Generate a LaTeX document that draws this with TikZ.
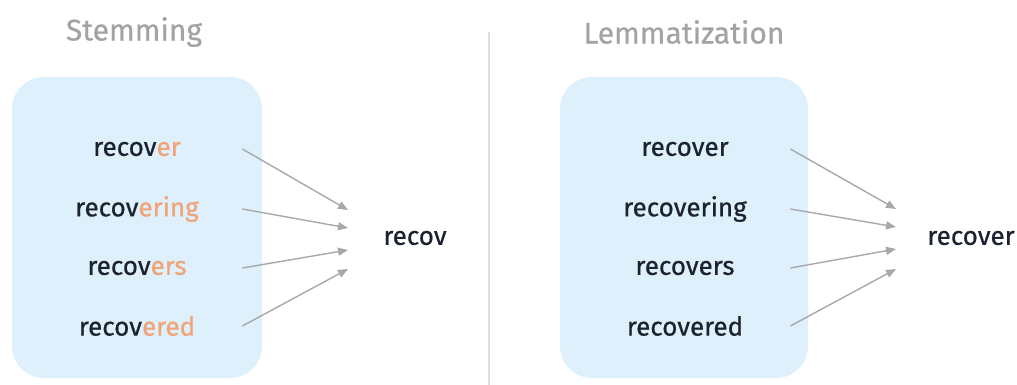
\documentclass[tikz,border=0pt]{standalone}
\usepackage{fontspec}
\setmainfont{Fira Sans}
\newfontfamily\wordfont[FakeBold=0.6]{Fira Sans}
\usetikzlibrary{arrows.meta}
\definecolor{boxblue}{HTML}{DDF0FC}
\definecolor{titlegray}{HTML}{A3A3A3}
\definecolor{wordink}{HTML}{1C2230}
\definecolor{suffix}{HTML}{F2A478}
\definecolor{arrowgray}{HTML}{A8A8A8}
\newcommand{\sfx}[1]{\textcolor{suffix}{#1}}
\begin{document}
\begin{tikzpicture}[x=0.5pt, y=-0.5pt,
    panel/.style={rectangle, rounded corners=16pt, fill=boxblue, minimum width=125pt, minimum height=150.5pt},
    heading/.style={text=titlegray, font=\wordfont\fontsize{15}{18}\selectfont},
    word/.style={text=wordink, font=\wordfont\fontsize{13}{16}\selectfont, minimum width=105pt, inner sep=0pt},
    result/.style={text=wordink, font=\wordfont\fontsize{13}{16}\selectfont},
    arrow/.style={draw=arrowgray, line width=0.7pt, -{Triangle[length=5pt, width=4pt]}}
]
\useasboundingbox (0,0) rectangle (1017,385);

% Divider
\draw[gray!25, line width=0.7pt] (489,32) -- (489,385);

% Stemming
\node[heading] (T1) at (134,32) {Stemming};
\node[panel] (P1) at (137,227.5) {};
\node[word] (S1) at (137,149) {recov\sfx{er}};
\node[word] (S2) at (137,209) {recov\sfx{ering}};
\node[word] (S3) at (137,268) {recov\sfx{ers}};
\node[word] (S4) at (137,326) {recov\sfx{ered}};
\node[result] (R1) at (415,238) {recov};

\coordinate (a1) at (348,210);
\coordinate (a2) at (348,228);
\coordinate (a3) at (348,250);
\coordinate (a4) at (348,269);

% Lemmatization
\node[heading] (T2) at (684,32) {Lemmatization};
\node[panel, minimum width=124pt] (P2) at (684,227.5) {};
\node[word] (L1) at (685,149) {recover};
\node[word] (L2) at (685,209) {recovering};
\node[word] (L3) at (685,268) {recovers};
\node[word] (L4) at (685,326) {recovered};
\node[result] (R2) at (971,238) {recover};

\coordinate (b1) at (896,209);
\coordinate (b2) at (896,227);
\coordinate (b3) at (896,249);
\coordinate (b4) at (896,269);

% Arrows
\draw [arrow] (S1.east) -- (a1);
\draw [arrow] (S2.east) -- (a2);
\draw [arrow] (S3.east) -- (a3);
\draw [arrow] (S4.east) -- (a4);
\draw [arrow] (L1.east) -- (b1);
\draw [arrow] (L2.east) -- (b2);
\draw [arrow] (L3.east) -- (b3);
\draw [arrow] (L4.east) -- (b4);

\end{tikzpicture}
\end{document}
